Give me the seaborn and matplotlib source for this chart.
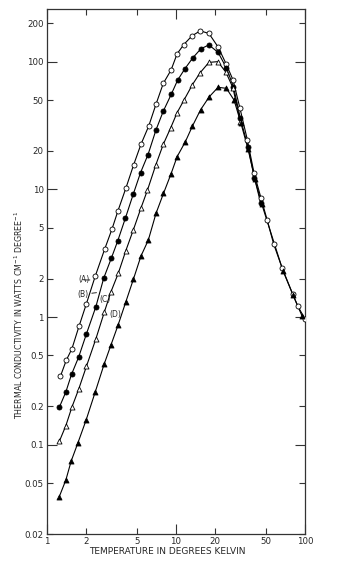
import matplotlib
matplotlib.use("Agg")
import matplotlib.pyplot as plt
import matplotlib.ticker as mticker
import numpy as np
import pandas as pd
import seaborn as sns

# ---- data ----
temp_A = [1.27, 1.41, 1.56, 1.77, 2.02, 2.37, 2.80, 3.19, 3.55, 4.10, 4.70, 5.35, 6.14, 7.00,
          7.97, 9.15, 10.2, 11.5, 13.3, 15.4, 18.0, 21.2, 24.4, 27.7, 31.3, 35.7, 40.2, 45.6,
          50.8, 57.2, 66.3, 80.3, 87.8, 100.0]
cond_A = [0.343, 0.458, 0.564, 0.845, 1.27, 2.10, 3.40, 4.88, 6.79, 10.3, 15.6, 22.5, 31.2, 46.4,
          67.5, 85.7, 115, 136, 159, 174, 166, 130, 96.4, 71.6, 43.2, 24.5, 13.5, 8.53,
          5.79, 3.72, 2.44, 1.51, 1.22, 0.964]

temp_B = [1.245, 1.40, 1.55, 1.76, 2.02, 2.39, 2.75, 3.15, 3.53, 4.06, 4.68, 5.31, 6.07, 7.00,
          7.97, 9.18, 10.3, 11.7, 13.5, 15.6, 18.0, 21.2, 24.6, 27.9, 31.5, 36.2, 40.6, 45.4]
cond_B = [0.196, 0.259, 0.356, 0.486, 0.736, 1.20, 2.01, 2.88, 3.93, 5.98, 9.26, 13.5, 18.7, 29.2,
          40.9, 55.3, 71.6, 87.6, 107, 126, 135, 118, 89.2, 63.4, 36.2, 21.4, 12.2, 7.76]

temp_C = [1.245, 1.40, 1.56, 1.76, 2.02, 2.39, 2.78, 3.12, 3.57, 4.08, 4.68, 5.35, 6.01, 6.97,
          7.97, 9.11, 10.2, 11.5, 13.4, 15.4, 18.0, 21.1, 24.4, 27.6, 31.6]
cond_C = [0.106, 0.141, 0.197, 0.272, 0.410, 0.672, 1.09, 1.56, 2.20, 3.30, 4.84, 7.13, 9.86, 15.5,
          22.5, 30.4, 39.8, 49.7, 65.9, 81.9, 98.5, 99.9, 82.3, 62.5, 33.6]

temp_D = [1.245, 1.40, 1.54, 1.74, 2.01, 2.36, 2.77, 3.13, 3.55, 4.08, 4.67, 5.35, 6.10, 7.00,
          8.00, 9.15, 10.2, 11.8, 13.4, 15.5, 18.1, 21.2, 24.6, 28.2, 31.9, 36.2, 40.8, 46.2,
          67.5, 80.7, 94.8]
cond_D = [0.0392, 0.0529, 0.0745, 0.104, 0.156, 0.257, 0.426, 0.603, 0.860, 1.31, 1.97, 3.00, 4.00, 6.48,
          9.29, 13.2, 18.0, 23.5, 31.2, 41.9, 53.0, 62.9, 61.7, 49.9, 32.8, 20.6, 12.1, 7.66,
          2.30, 1.49, 1.02]

series_names = ["A", "B", "C", "D"]
x_ticks_major = [1, 10, 100]
x_ticks_minor = [2, 5, 20, 50]
x_tick_labels_major = ["1", "10", "100"]
x_tick_labels_minor = ["2", "5", "20", "50"]
y_ticks_major = [0.1, 1, 10, 100]
y_ticks_minor = [0.02, 0.05, 0.2, 0.5, 2, 5, 20, 50, 200]
y_tick_labels_major = ["0.1", "1", "10", "100"]
y_tick_labels_minor = ["0.02", "0.05", "0.2", "0.5", "2", "5", "20", "50", "200"]

# ---- build a long table ----
frames = []
for name, t, k in zip(series_names, [temp_A, temp_B, temp_C, temp_D],
                      [cond_A, cond_B, cond_C, cond_D]):
    frames.append(pd.DataFrame({"T": t, "K": k, "series": name}))
df = pd.concat(frames, ignore_index=True)

sns.set_style("ticks")
plt.rcParams["font.family"] = ["DejaVu Sans"]

fig = plt.figure(figsize=(3.44, 5.63), dpi=100)
ax = fig.add_axes([47 / 344, 29 / 563, 258 / 344, 525 / 563])
ax.set_xscale("log")
ax.set_yscale("log")

styles = {
    "A": dict(marker="o", facecolor="white"),
    "B": dict(marker="o", facecolor="black"),
    "C": dict(marker="^", facecolor="white"),
    "D": dict(marker="^", facecolor="black"),
}

for name in series_names:
    sub = df[df["series"] == name]
    sns.lineplot(data=sub, x="T", y="K", ax=ax, color="black", lw=0.8,
                 estimator=None, sort=True, legend=False)
for name in series_names:
    sub = df[df["series"] == name]
    st = styles[name]
    sns.scatterplot(data=sub, x="T", y="K", ax=ax, marker=st["marker"],
                    color=st["facecolor"], edgecolor="black", linewidth=0.6,
                    s=13, legend=False, zorder=3)

ax.set_xlim(1, 100)
ax.set_ylim(0.02, 258)

ax.xaxis.set_major_locator(mticker.FixedLocator(x_ticks_major))
ax.xaxis.set_minor_locator(mticker.FixedLocator(x_ticks_minor))
ax.xaxis.set_major_formatter(mticker.FixedFormatter(x_tick_labels_major))
ax.xaxis.set_minor_formatter(mticker.FixedFormatter(x_tick_labels_minor))
ax.yaxis.set_major_locator(mticker.FixedLocator(y_ticks_major))
ax.yaxis.set_minor_locator(mticker.FixedLocator(y_ticks_minor))
ax.yaxis.set_major_formatter(mticker.FixedFormatter(y_tick_labels_major))
ax.yaxis.set_minor_formatter(mticker.FixedFormatter(y_tick_labels_minor))

ax.tick_params(axis="both", which="both", direction="in", top=True, right=True,
               labelsize=6.2, pad=2.5, width=0.8, color="#333333")
ax.tick_params(axis="both", which="major", length=7)
ax.tick_params(axis="both", which="minor", length=4)
for s in ax.spines.values():
    s.set_linewidth(0.9)
    s.set_color("#333333")

ax.set_xlabel("")
ax.set_ylabel("")
fig.text(167 / 344, 1 - 551 / 563, "TEMPERATURE IN DEGREES KELVIN", ha="center", va="center",
         fontsize=6.5)
fig.text(19 / 344, 1 - 315 / 563, "THERMAL CONDUCTIVITY IN WATTS CM$^{-1}$ DEGREE$^{-1}$",
         ha="center", va="center", rotation=90, fontsize=5.7)

# series labels
ax.annotate("(A)", xy=(2.15, 1.95), xytext=(1.93, 1.95), fontsize=5.5, ha="center", va="center",
            arrowprops=dict(arrowstyle="-", lw=0.6, color="black", shrinkA=5, shrinkB=0))
ax.annotate("(B)", xy=(2.42, 1.55), xytext=(1.90, 1.51), fontsize=5.5, ha="center", va="center",
            arrowprops=dict(arrowstyle="-", lw=0.6, color="black", shrinkA=5, shrinkB=0))
ax.text(2.80, 1.36, "(C)", fontsize=5.5, ha="center", va="center")
ax.text(3.37, 1.04, "(D)", fontsize=5.5, ha="center", va="center")

fig.savefig("out.png", dpi=100, facecolor="white")
